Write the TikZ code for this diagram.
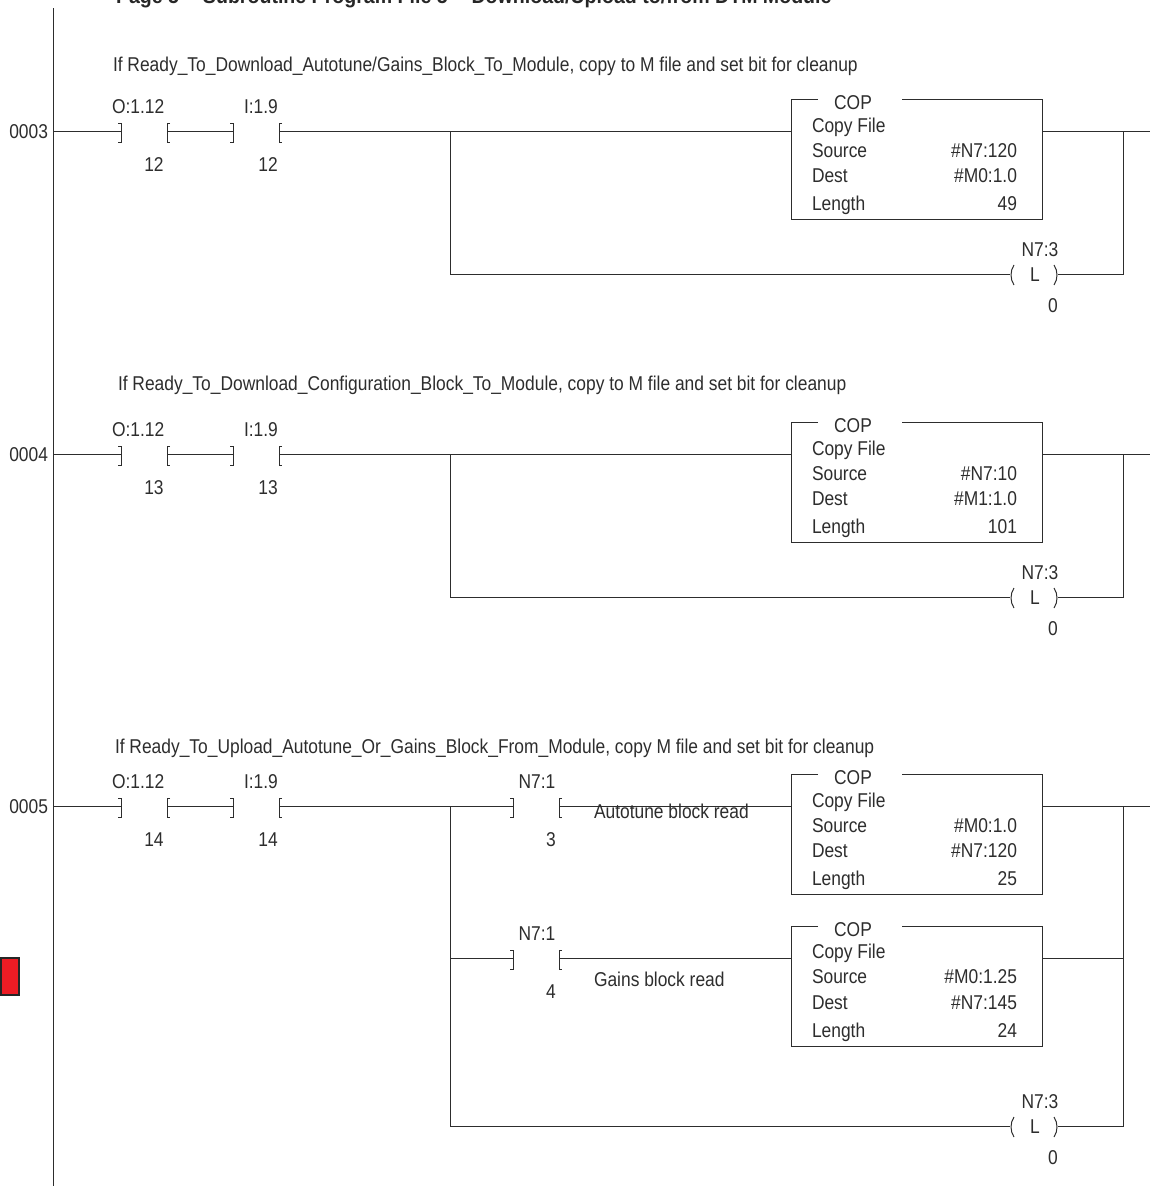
\documentclass[tikz,border=0pt]{standalone}
\usepackage{fontspec}
\setmainfont[FakeStretch=0.87]{Liberation Sans}
\newfontfamily\titlefont[FakeStretch=0.932]{Liberation Sans}
\usetikzlibrary{calc}
\definecolor{ink}{RGB}{45,45,45}
\definecolor{alarm}{RGB}{237,28,36}
\tikzset{
 wire/.style={draw=ink,line width=1pt},
 lab/.style={inner sep=0pt,outer sep=0pt,font=\fontsize{20}{22}\selectfont,text=ink,anchor=base},
 labl/.style={lab,anchor=base west},
 labr/.style={lab,anchor=base east},
 title/.style={labl,font=\titlefont\fontsize{21}{23}\selectfont\bfseries,text=black!85},
 copframe/.style={inner sep=0pt,outer sep=0pt,minimum width=251pt,minimum height=120pt,anchor=north west},
}
% contact: name, x of left bar, y of wire
\newcommand{\contact}[3]{%
 \coordinate (#1l) at (#2,#3);
 \coordinate (#1r) at (#2+46,#3);
 \draw[wire] ($(#1l)+(-3,-8)$) -- ++(3,0) -- ++(0,19) -- ++(-3,0);
 \draw[wire] ($(#1r)+(3,-8)$) -- ++(-3,0) -- ++(0,19) -- ++(3,0);
}
% COP block: name, top y, source, dest, length
\newcommand{\copblock}[5]{%
 \node[copframe] (#1) at (791,#2) {};
 \draw[wire] ($(#1.north west)+(27,0)$) -- (#1.north west) -- (#1.south west) -- (#1.south east) -- (#1.north east) -- ($(#1.north east)+(-140,0)$);
 \node[lab] (#1c) at (853,#2+10) {COP};
 \node[labl] (#1f) at (812,#2+32.5) {Copy File};
 \node[labl] (#1s) at (812,#2+57.5) {Source};
 \node[labl] (#1d) at (812,#2+83) {Dest};
 \node[labl] (#1n) at (812,#2+111) {Length};
 \node[labr] (#1sv) at (1017,#2+57.5) {#3};
 \node[labr] (#1dv) at (1017,#2+83) {#4};
 \node[labr] (#1nv) at (1017,#2+111) {#5};
}
% latch coil: name, y of wire
\newcommand{\latch}[2]{%
 \coordinate (#1l) at (1010,#2);
 \coordinate (#1r) at (1058,#2);
 \draw[wire] ($(#1l)+(4,-9)$) .. controls ($(#1l)+(0,-3)$) and ($(#1l)+(0,5)$) .. ($(#1l)+(4,11)$);
 \draw[wire] ($(#1r)+(-4,-9)$) .. controls ($(#1r)+(0,-3)$) and ($(#1r)+(0,5)$) .. ($(#1r)+(-4,11)$);
 \node[lab] (#1a) at (1040,#2-17.5) {N7:3};
 \node[lab] (#1b) at (1035,#2+7) {L};
 \node[lab] (#1c) at (1053,#2+38) {0};
}
% rung head: prefix, rung number, y, bit
\newcommand{\runghead}[4]{%
 \coordinate (#1rail) at (53,#3);
 \coordinate (#1end) at (1150,#3);
 \contact{#1A}{121}{#3}
 \contact{#1B}{233}{#3}
 \node[labr] (#1num) at (48,#3+6.5) {#2};
 \node[labl] (#1at) at (112,#3-18) {O:1.12};
 \node[labl] (#1bt) at (244,#3-18) {I:1.9};
 \node[lab] (#1ab) at (154,#3+40) {#4};
 \node[lab] (#1bb) at (268,#3+40) {#4};
 \coordinate (#1j) at (450,#3);
 \coordinate (#1k) at (1123,#3);
 \draw[wire] (#1rail) -- (#1Al) (#1Ar) -- (#1Bl) (#1Br) -- (#1j);
}
\begin{document}
\begin{tikzpicture}[x=1pt,y=-1pt]
\useasboundingbox (0,0) rectangle (1150,1186);
\begin{scope}
\clip (0,0) rectangle (1150,1186);
\node[title] (head) at (116,3.5) {Page 5 -- Subroutine Program File 5 -- Download/Upload to/from DTM Module};
\end{scope}
\coordinate (railtop) at (53,8);
\coordinate (railbot) at (53,1186);
\draw[wire] (railtop) -- (railbot);
\node[draw=black!85,line width=2pt,fill=alarm,inner sep=0pt,outer sep=0pt,minimum width=18pt,minimum height=37pt,anchor=north west] (alarmbox) at (1,958) {};

% rung 0003
\node[labl] (c3) at (113,71) {If Ready\_To\_Download\_Autotune/Gains\_Block\_To\_Module, copy to M file and set bit for cleanup};
\runghead{p}{0003}{131.5}{12}
\copblock{bp}{99.5}{\#N7:120}{\#M0:1.0}{49}
\latch{cp}{274}
\draw[wire] (pj) -- (pj -| bp.west);
\draw[wire] (bp.east |- pk) -- (pend);
\draw[wire] (pj) |- (cpl);
\draw[wire] (cpr) -| (pk);

% rung 0004
\node[labl] (c4) at (118,390) {If Ready\_To\_Download\_Configuration\_Block\_To\_Module, copy to M file and set bit for cleanup};
\runghead{q}{0004}{454.5}{13}
\copblock{bq}{422.5}{\#N7:10}{\#M1:1.0}{101}
\latch{cq}{597}
\draw[wire] (qj) -- (qj -| bq.west);
\draw[wire] (bq.east |- qk) -- (qend);
\draw[wire] (qj) |- (cql);
\draw[wire] (cqr) -| (qk);

% rung 0005
\node[labl] (c5) at (115,753) {If Ready\_To\_Upload\_Autotune\_Or\_Gains\_Block\_From\_Module, copy M file and set bit for cleanup};
\runghead{s}{0005}{806.5}{14}
\contact{sC}{513}{806.5}
\contact{sD}{513}{958}
\node[lab] (sct) at (537,788.5) {N7:1};
\node[lab] (scb) at (551,846.5) {3};
\node[lab] (sdt) at (537,940) {N7:1};
\node[lab] (sdb) at (551,998) {4};
\copblock{bs}{774.5}{\#M0:1.0}{\#N7:120}{25}
\copblock{bt}{926}{\#M0:1.25}{\#N7:145}{24}
\latch{cs}{1126}
\coordinate (sjd) at (450,958);
\coordinate (skd) at (1123,958);
\draw[wire] (sj) -- (sCl);
\draw[wire] (sCr) -- (sCr -| bs.west);
\draw[wire] (sjd) -- (sDl);
\draw[wire] (sDr) -- (sDr -| bt.west);
\draw[wire] (bs.east |- sk) -- (send);
\draw[wire] (bt.east |- skd) -- (skd);
\draw[wire] (sj) |- (csl);
\draw[wire] (csr) -| (sk);
\node[labl] (sat) at (594,818.5) {Autotune block read};
\node[labl] (sgb) at (594,986.5) {Gains block read};
\end{tikzpicture}
\end{document}
